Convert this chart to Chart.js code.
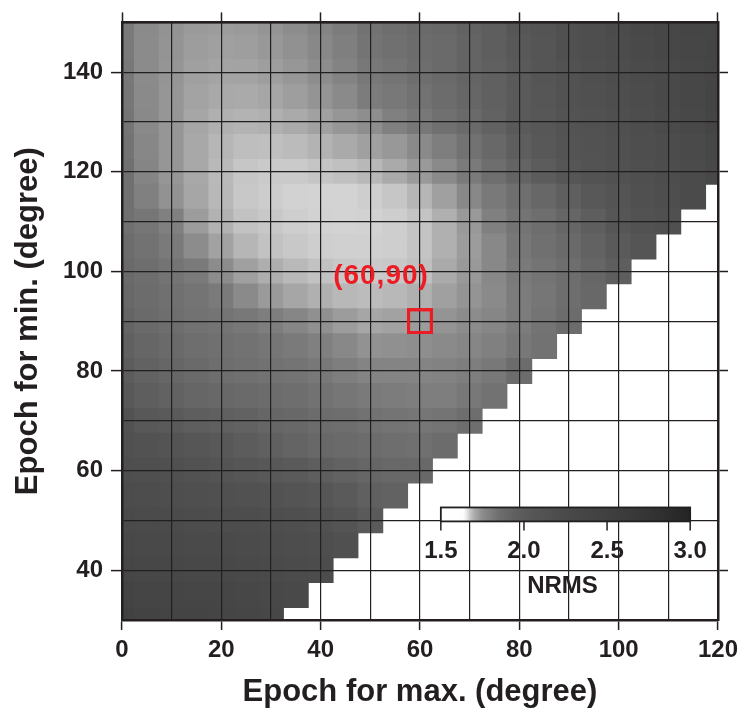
<!DOCTYPE html>
<html>
<head>
<meta charset="utf-8">
<script src="https://cdn.jsdelivr.net/npm/chart.js@4.4.1/dist/chart.umd.min.js"></script>
<style>
html,body{margin:0;padding:0;background:#fff;}
canvas{display:block;}
</style>
</head>
<body>
<canvas id="c" width="744" height="710"></canvas>
<script>
// ---- data ----
const epochMax = [0,5,10,15,20,25,30,35,40,45,50,55,60,65,70,75,80,85,90,95,100,105,110,115,120];
const epochMin = [150,145,140,135,130,125,120,115,110,105,100,95,90,85,80,75,70,65,60,55,50,45,40,35,30];

const nrmsMin150 = [1.810,1.757,1.739,1.728,1.725,1.728,1.738,1.750,1.777,1.803,1.837,1.850,1.877,1.890,1.930,1.961,2.050,2.083,2.150,2.183,2.233,2.300,2.325,2.375,2.400];
const nrmsMin145 = [1.810,1.753,1.738,1.723,1.719,1.722,1.731,1.742,1.763,1.793,1.830,1.843,1.863,1.877,1.917,1.961,2.028,2.067,2.150,2.183,2.217,2.275,2.325,2.350,2.400];
const nrmsMin140 = [1.817,1.753,1.736,1.719,1.713,1.714,1.722,1.733,1.748,1.780,1.817,1.830,1.850,1.877,1.917,1.943,2.006,2.067,2.117,2.167,2.200,2.233,2.275,2.325,2.375];
const nrmsMin135 = [1.820,1.757,1.734,1.714,1.705,1.703,1.709,1.722,1.738,1.757,1.803,1.817,1.837,1.863,1.903,1.943,2.006,2.050,2.117,2.150,2.183,2.217,2.275,2.325,2.400];
const nrmsMin130 = [1.827,1.760,1.734,1.709,1.696,1.694,1.696,1.703,1.717,1.734,1.747,1.790,1.817,1.843,1.877,1.930,2.006,2.039,2.100,2.133,2.167,2.200,2.250,2.300,2.375];
const nrmsMin125 = [1.833,1.767,1.734,1.706,1.691,1.684,1.683,1.687,1.694,1.703,1.719,1.731,1.757,1.797,1.837,1.890,1.961,2.028,2.083,2.117,2.150,2.183,2.217,2.250,2.325];
const nrmsMin120 = [1.843,1.773,1.734,1.706,1.688,1.677,1.674,1.674,1.678,1.682,1.689,1.703,1.728,1.757,1.810,1.850,1.917,1.983,2.050,2.100,2.133,2.167,2.200,2.233,2.300];
const nrmsMin115 = [1.843,1.790,1.741,1.709,1.689,1.675,1.672,1.669,1.668,1.668,1.671,1.677,1.691,1.719,1.763,1.813,1.847,1.897,1.950,2.028,2.083,2.150,2.183,2.233];
const nrmsMin110 = [1.843,1.823,1.790,1.725,1.695,1.680,1.675,1.671,1.669,1.668,1.669,1.671,1.679,1.696,1.730,1.790,1.830,1.850,1.903,1.961,2.050,2.117,2.150];
const nrmsMin105 = [1.863,1.837,1.810,1.750,1.716,1.691,1.680,1.675,1.671,1.670,1.670,1.671,1.679,1.696,1.725,1.763,1.820,1.843,1.877,1.930,2.006,2.067];
const nrmsMin100 = [1.877,1.850,1.830,1.810,1.750,1.719,1.698,1.688,1.680,1.675,1.674,1.675,1.682,1.703,1.730,1.763,1.810,1.830,1.850,1.903,1.961];
const nrmsMin95  = [1.890,1.863,1.843,1.830,1.810,1.757,1.728,1.709,1.696,1.689,1.686,1.689,1.696,1.719,1.738,1.757,1.803,1.823,1.850,1.890];
const nrmsMin90  = [1.917,1.877,1.850,1.837,1.830,1.817,1.797,1.770,1.744,1.725,1.709,1.716,1.725,1.738,1.750,1.770,1.803,1.830,1.863];
const nrmsMin85  = [1.943,1.903,1.877,1.850,1.843,1.837,1.823,1.810,1.790,1.763,1.741,1.744,1.747,1.757,1.770,1.790,1.817,1.837];
const nrmsMin80  = [1.983,1.930,1.903,1.877,1.850,1.843,1.837,1.830,1.817,1.797,1.777,1.777,1.777,1.783,1.797,1.817,1.863];
const nrmsMin75  = [2.028,1.961,1.930,1.903,1.890,1.877,1.863,1.850,1.837,1.823,1.810,1.803,1.797,1.797,1.817,1.837];
const nrmsMin70  = [2.117,2.028,2.006,1.961,1.943,1.930,1.903,1.890,1.863,1.850,1.837,1.830,1.823,1.830,1.850];
const nrmsMin65  = [2.150,2.117,2.083,2.050,2.028,1.983,1.943,1.917,1.890,1.877,1.863,1.850,1.843,1.863];
const nrmsMin60  = [2.183,2.167,2.150,2.117,2.083,2.050,2.028,2.006,1.961,1.930,1.903,1.890,1.890];
const nrmsMin55  = [2.217,2.200,2.183,2.167,2.150,2.133,2.117,2.083,2.050,2.006,1.943,1.930];
const nrmsMin50  = [2.250,2.233,2.233,2.217,2.200,2.200,2.183,2.167,2.133,2.083,2.006];
const nrmsMin45  = [2.300,2.275,2.275,2.250,2.250,2.233,2.217,2.200,2.183,2.150];
const nrmsMin40  = [2.350,2.325,2.325,2.300,2.300,2.275,2.250,2.233,2.217];
const nrmsMin35  = [2.425,2.375,2.375,2.350,2.350,2.325,2.300,2.275];
const nrmsMin30  = [2.475,2.425,2.400,2.400,2.375,2.350,2.325];

const xGridValues = [0,10,20,30,40,50,60,70,80,90,100,110,120];
const yGridValues = [30,40,50,60,70,80,90,100,110,120,130,140,150];
const xTickLabels = [0,20,40,60,80,100,120];
const yTickLabels = [40,60,80,100,120,140];
const colorbarTicks = [1.5,2.0,2.5,3.0];
const markedMax = 60;
const markedMin = 90;

// colour map: NRMS value -> grey level
const colorStops = [[1.50,255],[1.635,253],[1.655,232],[1.675,200],[1.70,172],[1.75,140],[1.85,110],[1.95,95],[2.05,86],[2.25,74],[2.45,66],[2.65,58],[2.85,46],[3.00,36]];

// ---- build ----
const nrmsRows = [nrmsMin150,nrmsMin145,nrmsMin140,nrmsMin135,nrmsMin130,nrmsMin125,nrmsMin120,nrmsMin115,nrmsMin110,nrmsMin105,nrmsMin100,nrmsMin95,nrmsMin90,nrmsMin85,nrmsMin80,nrmsMin75,nrmsMin70,nrmsMin65,nrmsMin60,nrmsMin55,nrmsMin50,nrmsMin45,nrmsMin40,nrmsMin35,nrmsMin30];
const cells = [];
nrmsRows.forEach((row, i) => row.forEach((v, j) => cells.push({x: epochMax[j], y: epochMin[i], v})));

function greyFor(v) {
  if (v <= colorStops[0][0]) return colorStops[0][1];
  for (let k = 1; k < colorStops.length; k++) {
    const [v1, g1] = colorStops[k];
    const [v0, g0] = colorStops[k-1];
    if (v <= v1) return g0 + (g1 - g0) * (v - v0) / (v1 - v0);
  }
  return colorStops[colorStops.length-1][1];
}
function colorFor(v) { const g = Math.round(greyFor(v)); return `rgb(${g},${g},${g})`; }

const INK = '#231f20';
const RED = '#ed1c24';
const FONT = "'Liberation Sans', Arial, Helvetica, sans-serif";

function cellSide(chart) {
  const xs = chart.scales.x;
  return Math.abs(xs.getPixelForValue(epochMax[1]) - xs.getPixelForValue(epochMax[0]));
}
const tickCol = c => (c.tick && c.tick.value % 20 === 0) ? INK : 'rgba(0,0,0,0)';

// colour bar placement (in axis units) - layout only
const cbBox = {x0: 64.2, x1: 114.4, yTop: 52.6, yBot: 49.8};

const overlayPlugin = {
  id: 'overlay',
  afterDraw(chart) {
    const ctx = chart.ctx;
    const xs = chart.scales.x, ys = chart.scales.y;
    // redraw marked cell on top of the grid
    const meta = chart.getDatasetMeta(0);
    const el = meta.data[0];
    ctx.save();
    el.draw(ctx, chart.chartArea);
    ctx.fillStyle = RED;
    ctx.font = `bold 28px ${FONT}`;
    if ('letterSpacing' in ctx) ctx.letterSpacing = '1px';
    ctx.textAlign = 'center';
    ctx.textBaseline = 'middle';
    ctx.fillText(`(${markedMax},${markedMin})`, el.x - 39, el.y - 45);
    ctx.restore();

    // colour bar
    const left = xs.getPixelForValue(cbBox.x0), right = xs.getPixelForValue(cbBox.x1);
    const top = ys.getPixelForValue(cbBox.yTop), bottom = ys.getPixelForValue(cbBox.yBot);
    const vMin = colorbarTicks[0], vMax = colorbarTicks[colorbarTicks.length-1];
    ctx.save();
    const grad = ctx.createLinearGradient(left, 0, right, 0);
    colorStops.forEach(([v]) => grad.addColorStop((v - vMin) / (vMax - vMin), colorFor(v)));
    ctx.fillStyle = grad;
    ctx.fillRect(left, top, right - left, bottom - top);
    ctx.strokeStyle = INK;
    ctx.lineWidth = 1.8;
    ctx.strokeRect(left, top, right - left, bottom - top);
    ctx.lineWidth = 1.5;
    ctx.fillStyle = INK;
    ctx.font = `bold 24px ${FONT}`;
    ctx.textAlign = 'center';
    ctx.textBaseline = 'middle';
    colorbarTicks.forEach(t => {
      const px = left + (t - vMin) / (vMax - vMin) * (right - left);
      ctx.beginPath();
      ctx.moveTo(px, bottom);
      ctx.lineTo(px, bottom + 9);
      ctx.stroke();
      ctx.fillText(t.toFixed(1), px, bottom + 30);
    });
    ctx.fillText('NRMS', (left + right) / 2 - 3, bottom + 65);
    ctx.restore();
  }
};

new Chart(document.getElementById('c'), {
  type: 'scatter',
  data: {
    datasets: [
      {
        label: 'marked',
        data: [{x: markedMax, y: markedMin}],
        pointStyle: 'rect',
        pointBackgroundColor: 'rgba(0,0,0,0)',
        pointBorderColor: RED,
        pointBorderWidth: 3,
        pointRadius: c => (cellSide(c.chart) - 2) / Math.SQRT2,
        order: 0,
        clip: false
      },
      {
        label: 'NRMS',
        data: cells,
        pointStyle: 'rect',
        pointBackgroundColor: c => colorFor(c.raw.v),
        pointBorderWidth: 0,
        pointRadius: c => (cellSide(c.chart) + 1) / Math.SQRT2,
        order: 1,
        clip: 0
      }
    ]
  },
  options: {
    responsive: false,
    animation: false,
    devicePixelRatio: 1,
    events: [],
    layout: {padding: 0},
    plugins: {legend: {display: false}, tooltip: {enabled: false}},
    scales: {
      x: {
        type: 'linear', position: 'bottom', min: 0, max: 120,
        afterBuildTicks: a => { a.ticks = xGridValues.map(v => ({value: v})); },
        afterFit: a => { a.height = 90; },
        grid: {z: 1, color: INK, lineWidth: 1.2, tickLength: 10, tickWidth: 1.5, tickColor: tickCol},
        border: {z: 2, display: true, color: INK, width: 2.5},
        ticks: {autoSkip: false, maxRotation: 0, padding: 6, color: INK,
          font: {family: FONT, size: 24, weight: 'bold'},
          callback: v => xTickLabels.includes(v) ? String(v) : ''},
        title: {display: true, text: 'Epoch for max. (degree)', color: INK,
          font: {family: FONT, size: 31, weight: 'bold', lineHeight: 1.1}, padding: {top: 0, bottom: 0}}
      },
      y: {
        type: 'linear', position: 'left', min: 30, max: 150,
        afterBuildTicks: a => { a.ticks = yGridValues.map(v => ({value: v})); },
        afterFit: a => { a.width = 122; },
        grid: {z: 1, color: INK, lineWidth: 1.2, tickLength: 11, tickWidth: 1.5, tickColor: tickCol},
        border: {z: 2, display: true, color: INK, width: 2.5},
        ticks: {autoSkip: false, padding: 8, color: INK,
          font: {family: FONT, size: 24, weight: 'bold'},
          callback: v => yTickLabels.includes(v) ? String(v) : ''},
        title: {display: true, text: 'Epoch for min. (degree)', color: INK,
          font: {family: FONT, size: 31, weight: 'bold', lineHeight: 1.1}, padding: {top: 11, bottom: 0}}
      },
      x2: {
        type: 'linear', position: 'top', min: 0, max: 120,
        afterBuildTicks: a => { a.ticks = xTickLabels.map(v => ({value: v})); },
        afterFit: a => { a.height = 22; },
        grid: {z: 1, drawOnChartArea: false, tickLength: 10, tickWidth: 1.5, tickColor: INK},
        border: {z: 2, display: true, color: INK, width: 2.5},
        ticks: {display: false}
      },
      y2: {
        type: 'linear', position: 'right', min: 30, max: 150,
        afterBuildTicks: a => { a.ticks = yTickLabels.map(v => ({value: v})); },
        afterFit: a => { a.width = 24; },
        grid: {z: 1, drawOnChartArea: false, tickLength: 10, tickWidth: 1.5, tickColor: INK},
        border: {z: 2, display: true, color: INK, width: 2.5},
        ticks: {display: false}
      }
    }
  },
  plugins: [overlayPlugin]
});
</script>
</body>
</html>
